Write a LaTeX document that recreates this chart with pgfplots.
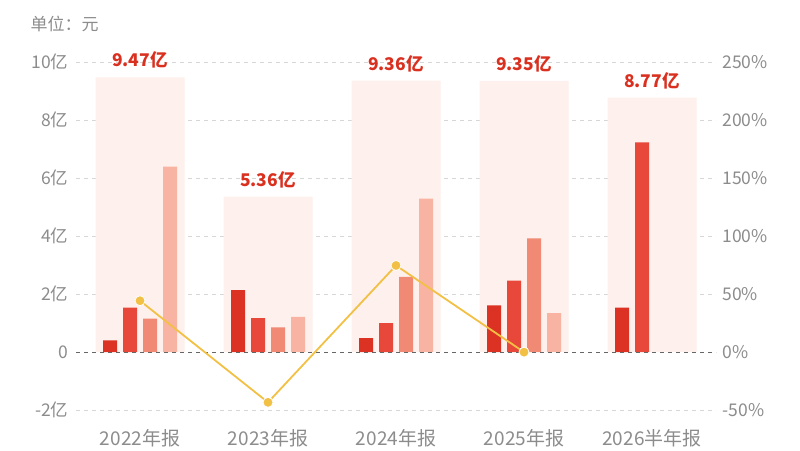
\documentclass[border=0pt]{standalone}
\usepackage{fontspec}
\setmainfont{Noto Sans CJK SC}
\usepackage{pgfplots}
\pgfplotsset{compat=1.18}

\definecolor{qa}{HTML}{DC3223}
\definecolor{qb}{HTML}{E8483A}
\definecolor{qc}{HTML}{F08A74}
\definecolor{qd}{HTML}{F8B3A3}
\definecolor{bgbar}{HTML}{FEF0EC}
\definecolor{gold}{HTML}{F2C044}
\definecolor{ticktxt}{HTML}{8C8C8C}
\definecolor{lbl}{HTML}{D9301F}

\begin{document}
\begin{tikzpicture}
\useasboundingbox (0,0) rectangle (800pt,450pt);
\clip (0,0) rectangle (800pt,450pt);

% unit note
\node[anchor=west, text=ticktxt, font=\fontsize{17pt}{20pt}\selectfont] at (27pt,426pt) {单位：元};

% bars, left axis (亿元)
\begin{axis}[
  scale only axis, width=640pt, height=348pt,
  at={(76pt,40pt)}, anchor=south west,
  xmin=-0.5, xmax=4.5, ymin=-2, ymax=10,
  axis line style={draw=none}, major tick length=0pt,
  xtick={0,1,2,3,4},
  xticklabels={2022年报,2023年报,2024年报,2025年报,2026半年报},
  ytick={-2,0,2,4,6,8,10},
  yticklabels={-2亿,0,2亿,4亿,6亿,8亿,10亿},
  ymajorgrids,
  grid style={black!16, line width=0.6pt, dash pattern=on 4pt off 4pt},
  tick label style={text=ticktxt},
  yticklabel style={font=\fontsize{17.5pt}{20pt}\selectfont, xshift=-4pt},
  xticklabel style={font=\fontsize{19pt}{22pt}\selectfont, anchor=center, inner sep=0pt, yshift=-28pt},
]
% totals
\addplot[ybar, bar width=89pt, bar shift=0pt, fill=bgbar, draw=none,
  point meta=explicit symbolic, nodes near coords,
  nodes near coords style={font=\bfseries\fontsize{17.5pt}{20pt}\selectfont,
    text=lbl, anchor=center, yshift=17pt}]
  coordinates {(0,9.47)[9.47亿] (1,5.36)[5.36亿] (2,9.36)[9.36亿] (3,9.35)[9.35亿] (4,8.77)[8.77亿]};

% quarters
\addplot[ybar, bar width=14pt, bar shift=-30pt, fill=qa, draw=none]
  coordinates {(0,0.40) (1,2.13) (2,0.48) (3,1.61) (4,1.53)};
\addplot[ybar, bar width=14pt, bar shift=-10pt, fill=qb, draw=none]
  coordinates {(0,1.53) (1,1.17) (2,1.00) (3,2.46) (4,7.23)};
\addplot[ybar, bar width=14pt, bar shift=10pt, fill=qc, draw=none]
  coordinates {(0,1.15) (1,0.85) (2,2.59) (3,3.92)};
\addplot[ybar, bar width=14pt, bar shift=30pt, fill=qd, draw=none]
  coordinates {(0,6.39) (1,1.21) (2,5.29) (3,1.34)};

\draw[black!60, line width=0.8pt, dash pattern=on 4pt off 4pt] (axis cs:-0.5,0) -- (axis cs:4.5,0);
\end{axis}

% growth line, right axis
\begin{axis}[
  scale only axis, width=640pt, height=348pt,
  at={(76pt,40pt)}, anchor=south west,
  xmin=-0.5, xmax=4.5, ymin=-50, ymax=250,
  axis line style={draw=none}, major tick length=0pt,
  xtick=\empty,
  ytick={-50,0,50,100,150,200,250},
  yticklabels={-50\%,0\%,50\%,100\%,150\%,200\%,250\%},
  yticklabel pos=right,
  yticklabel style={font=\fontsize{17.5pt}{20pt}\selectfont, text=ticktxt, anchor=west, xshift=3pt},
]
\addplot[gold, line width=1.8pt, mark=*, mark size=5pt,
  mark options={fill=gold, draw=white, line width=0.8pt}]
  coordinates {(0,44.2) (1,-43.4) (2,74.6) (3,-0.1)};
\end{axis}
\end{tikzpicture}
\end{document}
